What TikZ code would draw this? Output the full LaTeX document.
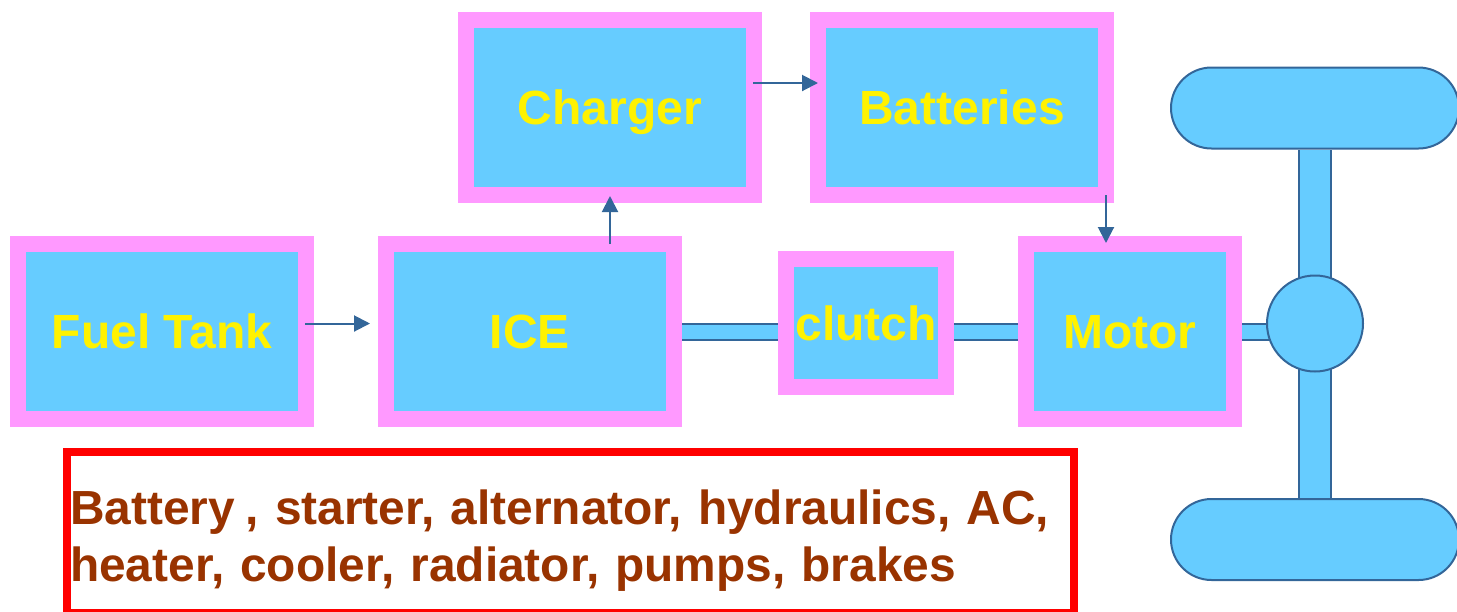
\documentclass[tikz,border=0pt]{standalone}
\usepackage{fontspec}
\setmainfont{Liberation Sans}
\usetikzlibrary{positioning,arrows.meta,backgrounds,shapes.misc}
\definecolor{boxpink}{HTML}{FF99FF}
\definecolor{boxblue}{HTML}{66CCFF}
\definecolor{edgeblue}{HTML}{336699}
\definecolor{notebrown}{HTML}{993300}

\begin{document}
\begin{tikzpicture}[x=0.1mm,y=-0.1mm,
                    flow/.style={-{Triangle[width=1.6mm,length=1.6mm]},draw=edgeblue,line width=0.2mm},
                    main box/.style={rectangle,draw=boxpink,fill=boxblue,line width=1.6mm,
                                     minimum width=28.8mm,minimum height=17.5mm,inner sep=0pt,
                                     text=yellow,font=\fontsize{13.66}{16}\selectfont\bfseries,
                                     text height=3.44mm,text depth=0pt},
                    part/.style={draw=edgeblue,fill=boxblue,line width=0.2mm},
                    shaft/.style={draw=edgeblue,line width=0.2mm,double=boxblue,double distance=1.4mm},
                    wheel/.style={part,rounded rectangle,minimum width=28.8mm,minimum height=8.1mm,inner sep=0pt}
                   ]
  \useasboundingbox (0,0) rectangle (1457,611);

  \node[main box] (fuel) at (162,331.5) {Fuel Tank};
  \node[main box] (ice) [right=6.4mm of fuel] {ICE};
  \node[main box] (charger) [above=3.3mm of ice,xshift=8mm] {Charger};
  \node[main box] (batteries) [right=4.8mm of charger] {Batteries};
  \node[main box,minimum width=16mm,minimum height=12.8mm] (clutch) [right=9.6mm of ice,yshift=0.85mm] {clutch};
  \node[main box,minimum width=20.8mm] (motor) [right=6.4mm of clutch,yshift=-0.85mm] {Motor};
  \node[part,circle,minimum size=9.6mm,inner sep=0pt] (hub) [right=2.4mm of motor,yshift=0.8mm] {};
  \node[wheel] (top wheel) [above=12.5mm of hub] {};
  \node[wheel] (bottom wheel) [below=12.55mm of hub] {};

  \node[rectangle,draw=red,line width=0.8mm,text width=100.1mm,minimum height=16.1mm,inner xsep=0.3mm,
        align=left,text=notebrown,font=\fontsize{13.62}{16.36}\selectfont\bfseries] (note) at (570.5,532.5)
        {\rule{0pt}{5.1mm}Battery\kern-0.5mm{} , starter, alternator, hydraulics, AC,\\ heater, cooler, radiator, pumps, brakes};

  \begin{scope}[on background layer]
    \draw[shaft] (ice.east) -- (clutch.west |- ice.east);
    \draw[shaft] (clutch.east |- motor.west) -- (motor.west);
    \draw[shaft] (motor.east) -- (hub |- motor.east);
    \draw[shaft,double distance=3mm] (hub.center) -- (hub |- top wheel.south);
    \draw[shaft,double distance=3mm] (hub.center) -- (hub |- bottom wheel.north);
  \end{scope}

  \draw[flow,shorten <=-0.9mm,shorten >=0.8mm] (fuel.east |- hub) -- (ice.west |- hub);
  \draw[flow,shorten <=-0.8mm,shorten >=-0.7mm] (charger.south |- ice.north) -- (charger.south);
  \draw[flow,shorten <=-0.9mm,shorten >=-0.8mm] ([yshift=2.45mm]charger.east) -- ([yshift=2.45mm]batteries.west);
  \draw[flow,shorten <=-0.8mm,shorten >=-0.7mm] ([xshift=-2.4mm]motor.north |- batteries.south) -- ([xshift=-2.4mm]motor.north);
\end{tikzpicture}
\end{document}
